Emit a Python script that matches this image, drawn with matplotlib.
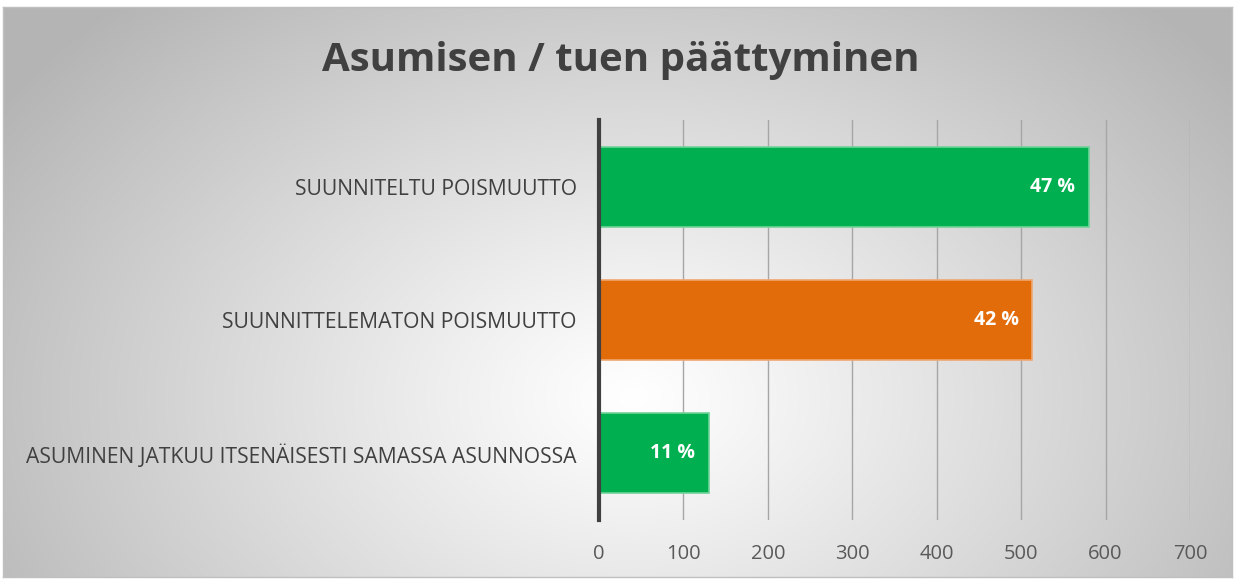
import matplotlib.pyplot as plt
import numpy as np

categories = ['ASUMINEN JATKUU ITSENÄISESTI SAMASSA ASUNNOSSA',
              'SUUNNITTELEMATON POISMUUTTO',
              'SUUNNITELTU POISMUUTTO']
values = [130, 513, 580]
shares = ['11 %', '42 %', '47 %']
bar_colors = ['#00B050', '#E36C0A', '#00B050']
edge_colors = ['#6FD39A', '#F0A66E', '#6FD39A']
xticks = [0, 100, 200, 300, 400, 500, 600, 700]

plt.rcParams['font.family'] = ['Open Sans', 'DejaVu Sans']

W, H = 1235, 579
fig = plt.figure(figsize=(W / 100, H / 100), dpi=100, facecolor='white')

# radial gradient background inside the frame
bg = fig.add_axes([3 / W, 2 / H, 1229 / W, 570 / H])
yy, xx = np.mgrid[0:570, 0:1229]
cx, cy = 630, 390
r = np.sqrt(((xx - cx) / 760) ** 2 + ((yy - cy) / 540) ** 2)
shade = 255 - 75 * np.clip(r, 0, 1) ** 1.1
img = np.dstack([shade, shade, shade]).astype(np.uint8)
bg.imshow(img, aspect='auto', interpolation='bilinear')
bg.set_xticks([])
bg.set_yticks([])
for s in bg.spines.values():
    s.set_color('#bfbfbf')
    s.set_linewidth(1)

ax = fig.add_axes([599 / W, 59 / H, 591 / W, 400 / H])
ax.patch.set_alpha(0)
y = np.arange(len(categories))
bars = ax.barh(y, values, height=0.6, color=bar_colors, edgecolor=edge_colors,
               linewidth=1.2, zorder=3)
for rect, lab in zip(bars, shares):
    ax.text(rect.get_width() - 16, rect.get_y() + rect.get_height() / 2, lab,
            ha='right', va='center', color='white', fontsize=14,
            fontweight='bold', zorder=4)

ax.set_xlim(0, 700)
ax.set_ylim(-0.5, 2.5)
ax.set_xticks(xticks)
ax.set_xticklabels([str(t) for t in xticks], fontsize=14.5, color='#595959')
ax.set_yticks(y)
ax.set_yticklabels(categories, fontsize=15.2, color='#404040')
ax.tick_params(axis='both', length=0)
ax.tick_params(axis='x', pad=17)
ax.tick_params(axis='y', pad=16)
ax.grid(axis='x', color='#a6a6a6', linewidth=1, zorder=0)
for side in ['top', 'right', 'bottom']:
    ax.spines[side].set_visible(False)
ax.spines['left'].set_color('#404040')
ax.spines['left'].set_linewidth(3)
ax.spines['left'].set_zorder(5)

fig.text(621 / W, 1 - 60 / H, 'Asumisen / tuen päättyminen', ha='center',
         va='center', fontsize=29, fontweight='bold', color='#404040')

fig.savefig('out.png', dpi=100, facecolor='white')
